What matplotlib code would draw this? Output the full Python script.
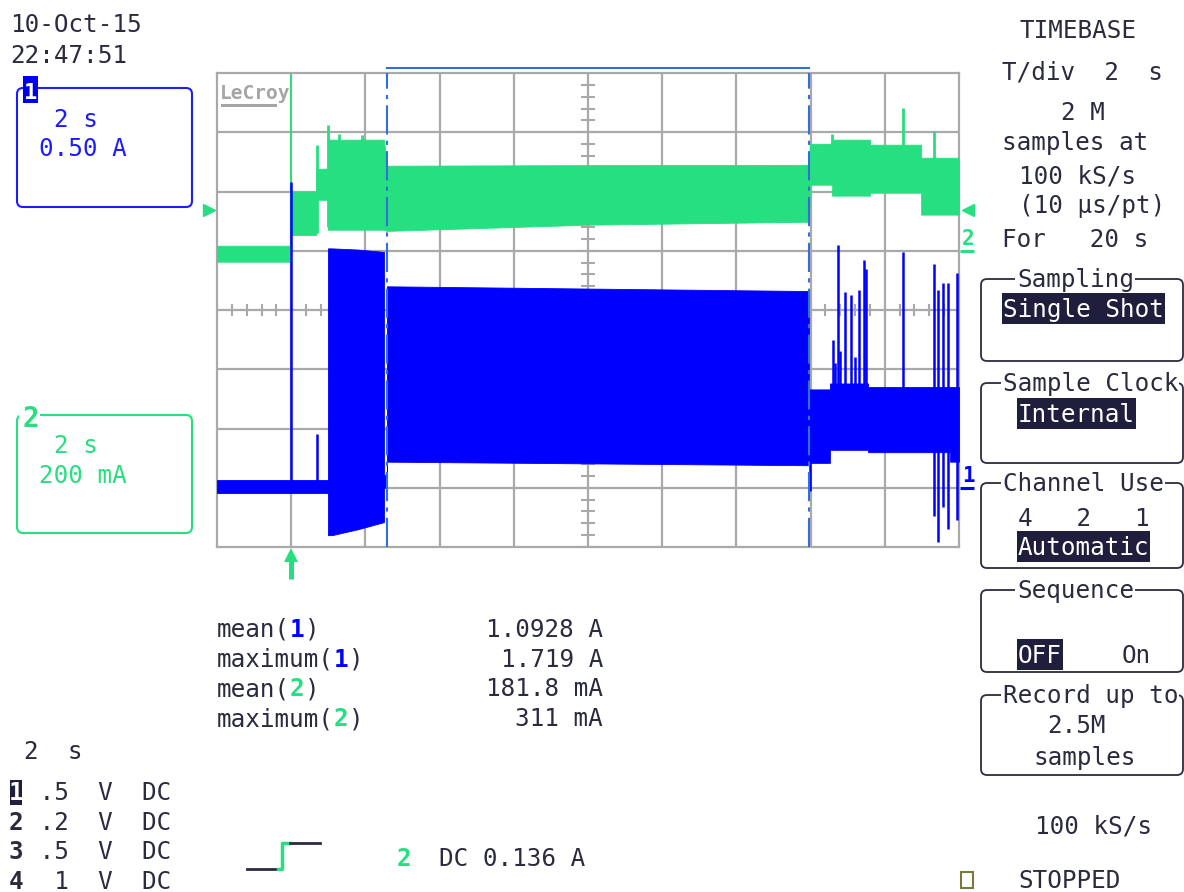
import matplotlib
matplotlib.use("Agg")
from matplotlib import pyplot as plt
from matplotlib.patches import FancyBboxPatch, Rectangle
from matplotlib.transforms import ScaledTranslation
import numpy as np

W, H, DPI = 1184, 892, 100

# scope settings
T_DIV = 2.0          # s/div
N_HDIV = 10
N_VDIV = 8
CH1_SCALE = 0.5      # A/div
CH1_OFFSET = -3.0    # div
CH2_SCALE = 200.0    # mA/div
CH2_OFFSET = 1.0     # div
TRIG_TIME = 2.0      # s
TRIG_LEVEL = 0.136   # A, on channel 2
CURSORS = [4.58, 15.96]

# channel 2 (green) envelope, time in s, current in mA
ch2_t = [0.00, 1.99, 1.99, 2.68, 2.68, 2.99, 2.99, 4.50, 4.58, 10.00, 15.96,
         15.98, 16.58, 16.58, 17.60, 17.60, 18.98, 18.98, 20.00]
ch2_hi = [17, 17, 199, 199, 277, 277, 375, 375, 287, 289, 290,
          361, 361, 375, 375, 358, 358, 314, 314]
ch2_lo = [-37, -37, 53, 53, 172, 172, 71, 71, 67, 88, 98,
          223, 223, 186, 186, 196, 196, 122, 122]
ch2_spike_t = [2.70, 2.99, 3.30, 3.90, 16.58, 18.49, 19.33]
ch2_spike_lo = [60, 80, 300, 300, 230, 200, 130]
ch2_spike_hi = [358, 425, 395, 390, 395, 483, 405]

# channel 1 (blue) envelope, time in s, current in A
ch1_t = [0.00, 2.99, 2.99, 3.10, 3.80, 4.50, 4.50, 4.58, 4.58, 15.96,
         15.96, 16.52, 16.52, 17.55, 17.55, 19.76, 19.76, 20.00]
ch1_hi = [0.065, 0.065, 2.02, 2.02, 2.01, 1.99, 0.11, 0.11, 1.70, 1.66,
          0.83, 0.83, 0.88, 0.88, 0.85, 0.85, 0.85, 0.85]
ch1_lo = [-0.045, -0.045, -0.40, -0.40, -0.35, -0.29, 0.0, 0.0, 0.22, 0.19,
          0.21, 0.21, 0.32, 0.32, 0.30, 0.30, 0.22, 0.22]
ch1_spike_t = [1.99, 2.70, 15.98, 16.60, 16.66, 16.74, 16.80, 16.93, 17.09, 17.20,
               17.30, 17.44, 17.49, 18.49, 19.33, 19.44, 19.57, 19.70, 19.95]
ch1_spike_lo = [0.0, 0.0, -0.03, 0.4, 0.4, 0.4, 0.4, 0.4, 0.4, 0.4,
                0.4, 0.4, 0.4, 0.4, -0.24, -0.46, -0.16, -0.35, -0.27]
ch1_spike_hi = [2.58, 0.456, 0.5, 1.25, 1.05, 2.05, 1.15, 1.65, 1.63, 1.10,
                1.67, 1.92, 1.85, 1.99, 1.89, 1.67, 1.73, 1.73, 1.81]

# measurements
meas_names = ["mean", "maximum", "mean", "maximum"]
meas_ch = ["1", "1", "2", "2"]
meas_vals = ["1.0928 A", "1.719 A", "181.8 mA", "311 mA"]

# channel setup table
setup_ch = ["1", "2", "3", "4"]
setup_vdiv = [".5", ".2", ".5", "1"]
setup_coupling = ["DC", "DC", "DC", "DC"]

GREEN = "#25df80"
BLUE = "#0000ff"
CURSOR = "#3070d8"
GRID = "#a9a9a9"
TXT = "#2b2b40"
INV = "#1f1f3d"
MONO = "DejaVu Sans Mono"
FS = 17.5


def ch1_div(v):
    return np.asarray(v) / CH1_SCALE + CH1_OFFSET


def ch2_div(v):
    return np.asarray(v) / CH2_SCALE + CH2_OFFSET


fig = plt.figure(figsize=(W / DPI, H / DPI), dpi=DPI)

# pixel overlay for the scope UI
ui = fig.add_axes([0, 0, 1, 1], zorder=0)
ui.set_xlim(0, W)
ui.set_ylim(H, 0)
ui.axis("off")


def txt(x, y, s, color=TXT, **kw):
    kw.setdefault("size", FS)
    ui.text(x, y, s, family=MONO, color=color, va="baseline", ha=kw.pop("ha", "left"), **kw)


def panel(x0, y0, x1, y1, edge, lw=1.5):
    ui.add_patch(FancyBboxPatch((x0, y0), x1 - x0, y1 - y0,
                                boxstyle="round,pad=0,rounding_size=6",
                                fc="none", ec=edge, lw=lw, zorder=1))


def titled_panel(x0, y0, x1, y1, title, tx):
    panel(x0, y0, x1, y1, TXT, lw=1.3)
    ui.add_patch(Rectangle((tx - 2, y0 - 4), len(title) * 14.6 + 3, 8, fc="white", ec="none", zorder=2))
    txt(tx, y0 + 8, title, zorder=3)


def inverse(x, y, s, w=None):
    w = w if w is not None else len(s) * 14.6 + 2
    ui.add_patch(Rectangle((x - 1, y - 24), w, 31, fc=INV, ec="none", zorder=2))
    txt(x, y, s, color="white", zorder=3)


# date / time
txt(10, 32, "10-Oct-15")
txt(10, 63, "22:47:51")

# channel boxes on the left
panel(17, 88, 192, 207, "#1c1cff")
ui.add_patch(Rectangle((23, 76), 15, 27, fc="#0000f0", ec="none", zorder=2))
txt(30.5, 99, "1", color="white", ha="center", weight="bold", size=16, zorder=3)
txt(54, 127, "2 s", color="#1c1cff")
txt(39, 156, "0.50 A", color="#1c1cff")

panel(17, 415, 192, 533, GREEN)
ui.add_patch(Rectangle((19, 405), 21, 14, fc="white", ec="none", zorder=2))
txt(31, 427, "2", color=GREEN, ha="center", weight="bold", size=20, zorder=3)
txt(54, 453, "2 s", color=GREEN)
txt(39, 483, "200 mA", color=GREEN)

# LeCroy logo
txt(220, 99, "LeCroy", color="#a5a5a5", weight="bold", size=14)
ui.add_patch(Rectangle((221, 104), 56, 3, fc="#a5a5a5", ec="none"))

# measurements
for i, (name, ch, val) in enumerate(zip(meas_names, meas_ch, meas_vals)):
    y = 637 + i * 29.7
    col = BLUE if ch == "1" else GREEN
    txt(217, y, name + "(")
    txt(217 + (len(name) + 1) * 14.6, y, ch, color=col, weight="bold")
    txt(217 + (len(name) + 2) * 14.6, y, ")")
    txt(603, y, val, ha="right")

# channel setup
txt(24, 759, "2  s")
for i, (ch, vd, cp) in enumerate(zip(setup_ch, setup_vdiv, setup_coupling)):
    y = 800 + i * 29.6
    if i == 0:
        ui.add_patch(Rectangle((10, y - 20), 12, 25, fc=INV, ec="none", zorder=2))
        txt(16, y, ch, color="white", weight="bold", ha="center", zorder=3)
    else:
        txt(16, y, ch, weight="bold", ha="center")
    txt(10 + 14.6, y, f"{vd:>3}  V  {cp}")

# trigger symbol and level
ui.plot([247, 280], [869, 869], color=TXT, lw=2)
ui.plot([278, 282, 282, 290], [869, 869, 843, 843], color=GREEN, lw=2.5)
ui.plot([290, 320], [843, 843], color=TXT, lw=2)
txt(397, 866, "2", color=GREEN, weight="bold")
txt(439, 866, f"DC {TRIG_LEVEL:.3f} A")

# timebase panel
txt(1019, 38, "TIMEBASE")
txt(1002, 80, f"T/div  {T_DIV:.0f}  s")
txt(1061, 120, "2 M")
txt(1002, 150, "samples at")
txt(1019, 183, "100 kS/s")
txt(1019, 213, "(10 μs/pt)")
txt(1002, 247, f"For   {T_DIV * N_HDIV:.0f} s")

titled_panel(981, 279, 1183, 361, "Sampling", 1017)
inverse(1003, 317, "Single Shot")
titled_panel(981, 383, 1183, 463, "Sample Clock", 1003)
inverse(1018, 422, "Internal")
titled_panel(981, 483, 1183, 568, "Channel Use", 1003)
txt(1018, 526, "4   2   1")
inverse(1018, 555, "Automatic")
titled_panel(981, 590, 1183, 672, "Sequence", 1017)
inverse(1018, 663, "OFF")
txt(1122, 663, "On")
titled_panel(981, 695, 1183, 775, "Record up to", 1003)
txt(1047, 733, "2.5M")
txt(1033, 765, "samples")
txt(1035, 833, "100 kS/s")
ui.add_patch(Rectangle((961, 872), 12, 16, fc="none", ec="#7a7a3c", lw=1.5))
txt(1018, 888, "STOPPED")

# waveform grid
ax = fig.add_axes([217 / W, (H - 547) / H, 742 / W, 474 / H], zorder=1)
ax.set_facecolor("none")
ax.set_xlim(0, T_DIV * N_HDIV)
ax.set_ylim(-N_VDIV / 2, N_VDIV / 2)
ax.set_xticks([])
ax.set_yticks([])
for sp in ax.spines.values():
    sp.set_color(GRID)
    sp.set_linewidth(1.6)
for i in range(1, N_HDIV):
    ax.axvline(i * T_DIV, color=GRID, lw=1.6, zorder=1)
for j in range(1, N_VDIV):
    ax.axhline(j - N_VDIV / 2, color=GRID, lw=1.6, zorder=1)
xc = T_DIV * N_HDIV / 2
minor_y = np.arange(-N_VDIV / 2, N_VDIV / 2, 0.2)
minor_x = np.arange(0, T_DIV * N_HDIV, T_DIV / 5)
ax.plot(np.full(len(minor_y), xc), minor_y, ls="none", marker="_", ms=10, mew=1.5, color=GRID, zorder=1)
ax.plot(minor_x, np.zeros(len(minor_x)), ls="none", marker="|", ms=9, mew=1.5, color=GRID, zorder=1)


def px(dx, dy):
    return ScaledTranslation(dx / DPI, dy / DPI, fig.dpi_scale_trans)


# trigger line
ax.vlines(TRIG_TIME, ch2_div(0), N_VDIV / 2, color=GREEN, lw=1.3, zorder=2)

# traces
ax.fill_between(ch2_t, ch2_div(ch2_lo), ch2_div(ch2_hi), color=GREEN, lw=0.6, zorder=3)
ax.vlines(ch2_spike_t, ch2_div(ch2_spike_lo), ch2_div(ch2_spike_hi), color=GREEN, lw=2, zorder=3)
ax.fill_between(ch1_t, ch1_div(ch1_lo), ch1_div(ch1_hi), color=BLUE, lw=0.6, zorder=4)
ax.vlines(ch1_spike_t, ch1_div(ch1_spike_lo), ch1_div(ch1_spike_hi), color=BLUE, lw=1.8, zorder=4)

# cursors
for c in CURSORS:
    ax.axvline(c, color=CURSOR, lw=1.5, ls=(0, (14, 3, 2, 3)), zorder=6)
ax.plot(CURSORS, [1, 1], transform=ax.get_xaxis_transform() + px(0, 5),
        color=CURSOR, lw=1.5, clip_on=False, zorder=6)

# markers around the grid
ytr = ax.get_yaxis_transform()
trig_div = ch2_div(TRIG_LEVEL * 1000)
ax.plot(0, trig_div, marker=">", ms=9, color=GREEN, transform=ytr + px(-8, 0), clip_on=False)
ax.plot(1, trig_div, marker="<", ms=9, color=GREEN, transform=ytr + px(9, 0), clip_on=False)
for lvl, col, lab in [(ch2_div(0), GREEN, "2"), (ch1_div(0), BLUE, "1")]:
    ax.text(1, lvl, lab, transform=ytr + px(3, 6), color=col, family=MONO,
            weight="bold", size=15, va="baseline", ha="left", clip_on=False)
    ax.plot(1, lvl, marker="_", ms=9.5, mew=2.2, color=col, transform=ytr + px(8, 0), clip_on=False)
xtr = ax.get_xaxis_transform()
ax.plot(TRIG_TIME, 0, marker="^", ms=9.7, color=GREEN, mew=0, transform=xtr + px(0, -7.5), clip_on=False)
ax.plot(TRIG_TIME, 0, marker="|", ms=12.5, mew=3.6, color=GREEN, transform=xtr + px(0, -22.5), clip_on=False)

fig.savefig("out.png", dpi=DPI, facecolor="white")
